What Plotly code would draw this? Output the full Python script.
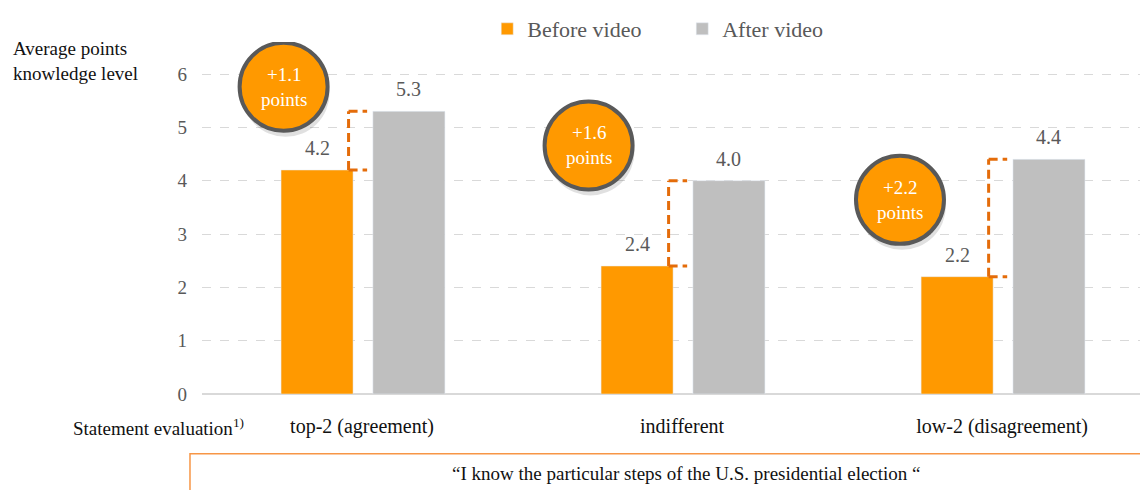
import plotly.graph_objects as go

categories = ["top-2 (agreement)", "indifferent", "low-2 (disagreement)"]
before_video = [4.2, 2.4, 2.2]
after_video = [5.3, 4.0, 4.4]
y_ticks = [0, 1, 2, 3, 4, 5, 6]
series_names = ["Before video", "After video"]

ORANGE = "#FF9900"
GRAY = "#BFBFBF"
DARK_ORANGE = "#E46C0A"
TXT = "#595959"
FONT = "Liberation Serif"

xpos = list(range(len(categories)))
BW = 0.225
OFF_B = -0.253
OFF_A = 0.034

fig = go.Figure()
fig.add_trace(go.Bar(x=xpos, y=before_video, name=series_names[0], marker_color=ORANGE,
                     width=BW, offset=OFF_B))
fig.add_trace(go.Bar(x=xpos, y=after_video, name=series_names[1], marker_color=GRAY,
                     width=BW, offset=OFF_A))

shapes = []
annotations = []

# value labels
for i, (b, a) in enumerate(zip(before_video, after_video)):
    for off, v in ((OFF_B, b), (OFF_A, a)):
        annotations.append(dict(x=i + off + BW / 2, y=v, xref="x", yref="y", yanchor="bottom",
                                yshift=9, showarrow=False, text=f"{v:.1f}",
                                font=dict(family=FONT, size=20, color=TXT)))

# circle positions relative to each group (data units)
circle_dx = [-0.245, -0.292, -0.319]
circle_y = [5.76, 4.66, 3.64]
R = 44
DASH = "9px,5px"
for i, (b, a) in enumerate(zip(before_video, after_video)):
    xv = i - 0.042
    shapes.append(dict(type="line", xref="x", yref="y", x0=xv, x1=xv, y0=b, y1=a,
                       line=dict(color=DARK_ORANGE, width=3, dash=DASH), layer="above"))
    for yy in (a, b):
        shapes.append(dict(type="line", xref="x", yref="y", x0=xv, x1=i + 0.016, y0=yy, y1=yy,
                           line=dict(color=DARK_ORANGE, width=3, dash=DASH), layer="above"))
    cx = i + circle_dx[i]
    cy = circle_y[i]
    shapes.append(dict(type="circle", xref="x", yref="y", xsizemode="pixel", ysizemode="pixel",
                       xanchor=cx, yanchor=cy, x0=-R + 2, x1=R + 2, y0=-R - 6, y1=R - 6,
                       fillcolor="rgba(0,0,0,0.12)", line=dict(width=0), layer="above"))
    shapes.append(dict(type="circle", xref="x", yref="y", xsizemode="pixel", ysizemode="pixel",
                       xanchor=cx, yanchor=cy, x0=-R, x1=R, y0=-R, y1=R,
                       fillcolor=ORANGE, line=dict(color="#595959", width=4), layer="above"))
    annotations.append(dict(x=cx, y=cy, xref="x", yref="y", showarrow=False,
                            text=f"+{a - b:.1f}<br>points",
                            font=dict(family=FONT, size=19, color="white")))

# bottom box
shapes.append(dict(type="rect", xref="paper", yref="paper", x0=-0.0127, x1=1.2,
                   y0=-0.4, y1=-0.1695, line=dict(color="#F79646", width=1.5)))

annotations += [
    dict(xref="paper", yref="paper", x=-0.202, y=1.017, xanchor="left", yanchor="top",
         align="left", showarrow=False, text="Average points<br>knowledge level",
         font=dict(family=FONT, size=19, color="#111111")),
    dict(xref="paper", yref="paper", x=0.046, y=-0.093, xanchor="right", yanchor="middle",
         showarrow=False, text="Statement evaluation<sup>1)</sup>",
         font=dict(family=FONT, size=19, color="#111111")),
    dict(xref="paper", yref="paper", x=0.5125, y=-0.225, xanchor="center", yanchor="middle",
         showarrow=False, text="“I know the particular steps of the U.S. presidential election “",
         font=dict(family=FONT, size=19, color="#111111")),
]

fig.update_layout(
    width=1140, height=482,
    margin=dict(l=194, r=0, t=32, b=96),
    plot_bgcolor="white", paper_bgcolor="white",
    showlegend=True,
    legend=dict(orientation="h", x=0.3015, y=1.097, xanchor="left", yanchor="top",
                font=dict(family=FONT, size=22, color=TXT), itemwidth=30,
                traceorder="normal", entrywidth=150),
    xaxis=dict(range=[-0.5, 2.456], tickmode="array", tickvals=xpos, ticktext=categories,
               showgrid=False, zeroline=False, showline=False, ticks="",
               ticklabelstandoff=18,
               tickfont=dict(family=FONT, size=20, color="#111111")),
    yaxis=dict(range=[0, 6.6], tickmode="array", tickvals=y_ticks, showgrid=True,
               gridcolor="#D9D9D9", griddash="dash", gridwidth=1,
               zeroline=True, zerolinecolor="#D9D9D9", zerolinewidth=2,
               showline=False, ticks="", ticklabelstandoff=14,
               tickfont=dict(family=FONT, size=19, color=TXT)),
    shapes=shapes, annotations=annotations,
)

fig.write_html("out.html")
